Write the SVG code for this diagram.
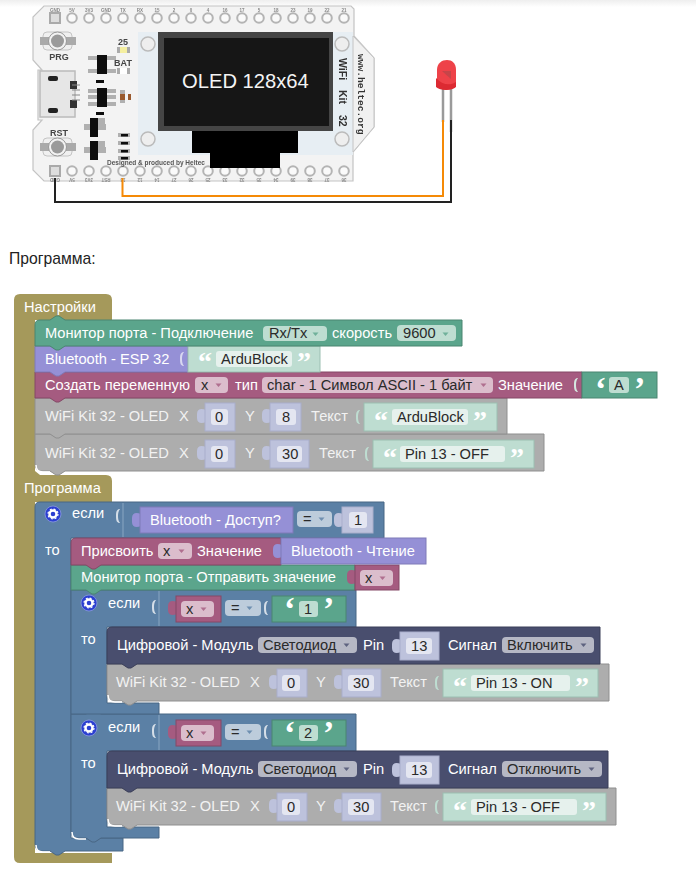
<svg xmlns="http://www.w3.org/2000/svg" width="696" height="878" viewBox="0 0 696 878">
<style>
text{font-family:"Liberation Sans",Arial,sans-serif;font-size:14.67px}
.t{fill:#fff}.g{fill:#f2f2f2}.d{fill:#2a2a2a}
.q{font-family:"Liberation Serif",serif;font-size:28px;font-weight:bold;fill:#fff}
.q1{font-family:"Liberation Serif",serif;font-size:34px;font-weight:bold;fill:#fff}
.ht{fill:#A5995B}
.te{fill:#5BA58C;stroke:#4A8571}.pu{fill:#9590D6;stroke:#7F7AB8}.cr{fill:#A55B80;stroke:#844966}.gr{fill:#ADADAD;stroke:#8F8F8F}.da{fill:#494E6E;stroke:#3A3E58}.bl{fill:#5B80A5;stroke:#496684}
.sv{fill:#BEDDD1;stroke:#9CBFB2}.vv{fill:#BDC2DC;stroke:#A9AECB}
.fte{fill:#BEDDD1}.fcr{fill:#DBBDCC}.fbl{fill:#BDCCDB}.fda{fill:#B6B8C5}.fv{fill:#E4E6F1}.fs{fill:#E6F1ED}
.sl{stroke:#8AA6C2;stroke-width:1;fill:none}
.hl{stroke:#fff;stroke-width:1.500;fill:none}
.m{font-size:4.5px;fill:#888;text-anchor:middle;font-weight:bold}
.pin{fill:#fafafa;stroke:#b4b4b4;stroke-width:2}
.pad{fill:#b0b0b0}.blk{fill:#111}
.lb{font-size:9px;font-weight:bold;fill:#444;text-anchor:middle}
.wk{font-size:10.500px;font-weight:bold;fill:#333}
</style>
<defs>
<linearGradient id="top" x1="0" y1="0" x2="0" y2="1"><stop offset="0" stop-color="#eeeeee"/><stop offset="1" stop-color="#ffffff"/></linearGradient>
<filter id="soft" x="-2%" y="-2%" width="104%" height="104%"><feGaussianBlur stdDeviation="0.45"/></filter>
<path id="tab" d="M1,5 C-4,3 -8,4 -8,9 V13 C-8,18 -4,19 1,17 Z"/>
<path id="cre" d="M0,4 C-3,4 -4,6 -4,11 C-4,16 -3,18 0,18 C-1.5,16 -2,14 -2,11 C-2,8 -1.500,6 0,4 Z"/>
<path id="arr" d="M0.500,0.500 H6.500 L3.500,4 Z" opacity="0.8"/>
<g id="gear"><circle r="8" fill="#2B3FD0" stroke="#8C9BE0" stroke-width="0.8"/><circle r="3.500" fill="none" stroke="#fff" stroke-width="2.400"/><circle r="5" fill="none" stroke="#fff" stroke-width="1.200" stroke-dasharray="2 1.930"/></g>
</defs>

<rect x="0" y="0" width="696" height="7" fill="url(#top)"/>

<g id="board">
<g filter="url(#soft)">
<path d="M44,6 H351 L354,9 V36 L374,58 V127 L353,152 V181 H44 L33,170 V130 L42,120 H38 V70 H42 L33,60 V17 Z" fill="#f3f3f3" stroke="#c4c4c4" stroke-width="1.200"/>
<rect x="138" y="32" width="215" height="123" fill="#E7EEF3"/>
<path d="M353,36 L374,58 V127 L353,152 Z" fill="#f1f1f1" stroke="#c4c4c4"/>
<rect x="158" y="32" width="175" height="99" fill="#444"/>
<rect x="164" y="38" width="165" height="88" fill="#161616"/>
<circle cx="148" cy="44" r="7" fill="#eee" stroke="#bbb" stroke-width="1.500"/><circle cx="148" cy="139" r="7" fill="#eee" stroke="#bbb" stroke-width="1.500"/>
<circle cx="342" cy="44" r="7" fill="#eee" stroke="#bbb" stroke-width="1.500"/><circle cx="342" cy="139" r="7" fill="#eee" stroke="#bbb" stroke-width="1.500"/>
<g id="pins">
<rect x="50" y="13" width="10" height="10" fill="#ddd" stroke="#aaa" stroke-width="2"/>
<circle class="pin" cx="72" cy="18" r="4.800"/><circle class="pin" cx="89" cy="18" r="4.800"/><circle class="pin" cx="106" cy="18" r="4.800"/><circle class="pin" cx="123" cy="18" r="4.800"/><circle class="pin" cx="140" cy="18" r="4.800"/><circle class="pin" cx="157" cy="18" r="4.800"/><circle class="pin" cx="174" cy="18" r="4.800"/><circle class="pin" cx="191" cy="18" r="4.800"/><circle class="pin" cx="208" cy="18" r="4.800"/><circle class="pin" cx="225" cy="18" r="4.800"/><circle class="pin" cx="242" cy="18" r="4.800"/><circle class="pin" cx="259" cy="18" r="4.800"/><circle class="pin" cx="276" cy="18" r="4.800"/><circle class="pin" cx="293" cy="18" r="4.800"/><circle class="pin" cx="310" cy="18" r="4.800"/><circle class="pin" cx="327" cy="18" r="4.800"/><circle class="pin" cx="344" cy="18" r="4.800"/>
<rect x="50" y="166" width="10" height="10" fill="#ddd" stroke="#aaa" stroke-width="2"/>
<circle class="pin" cx="72" cy="171" r="4.800"/><circle class="pin" cx="89" cy="171" r="4.800"/><circle class="pin" cx="106" cy="171" r="4.800"/><circle class="pin" cx="123" cy="171" r="4.800"/><circle class="pin" cx="140" cy="171" r="4.800"/><circle class="pin" cx="157" cy="171" r="4.800"/><circle class="pin" cx="174" cy="171" r="4.800"/><circle class="pin" cx="191" cy="171" r="4.800"/><circle class="pin" cx="208" cy="171" r="4.800"/><circle class="pin" cx="225" cy="171" r="4.800"/><circle class="pin" cx="242" cy="171" r="4.800"/><circle class="pin" cx="259" cy="171" r="4.800"/><circle class="pin" cx="276" cy="171" r="4.800"/><circle class="pin" cx="293" cy="171" r="4.800"/><circle class="pin" cx="310" cy="171" r="4.800"/><circle class="pin" cx="327" cy="171" r="4.800"/><circle class="pin" cx="344" cy="171" r="4.800"/>
</g>
<g id="pinlabels">
<text class="m" x="55" y="12">GND</text><text class="m" x="72" y="12">5V</text><text class="m" x="89" y="12">3V3</text><text class="m" x="106" y="12">GND</text><text class="m" x="123" y="12">TX</text><text class="m" x="140" y="12">RX</text><text class="m" x="157" y="12">15</text><text class="m" x="174" y="12">2</text><text class="m" x="191" y="12">0</text><text class="m" x="208" y="12">4</text><text class="m" x="225" y="12">16</text><text class="m" x="242" y="12">17</text><text class="m" x="259" y="12">5</text><text class="m" x="276" y="12">18</text><text class="m" x="293" y="12">23</text><text class="m" x="310" y="12">19</text><text class="m" x="327" y="12">22</text><text class="m" x="344" y="12">21</text>
<text class="m" transform="rotate(180 55 178)" x="55" y="178">GND</text><text class="m" transform="rotate(180 72 178)" x="72" y="178">5V</text><text class="m" transform="rotate(180 89 178)" x="89" y="178">3V3</text><text class="m" transform="rotate(180 106 178)" x="106" y="178">RST</text><text class="m" transform="rotate(180 123 178)" x="123" y="178">13</text><text class="m" transform="rotate(180 140 178)" x="140" y="178">12</text><text class="m" transform="rotate(180 157 178)" x="157" y="178">14</text><text class="m" transform="rotate(180 174 178)" x="174" y="178">27</text><text class="m" transform="rotate(180 191 178)" x="191" y="178">26</text><text class="m" transform="rotate(180 208 178)" x="208" y="178">25</text><text class="m" transform="rotate(180 225 178)" x="225" y="178">33</text><text class="m" transform="rotate(180 242 178)" x="242" y="178">32</text><text class="m" transform="rotate(180 259 178)" x="259" y="178">35</text><text class="m" transform="rotate(180 276 178)" x="276" y="178">34</text><text class="m" transform="rotate(180 293 178)" x="293" y="178">39</text><text class="m" transform="rotate(180 310 178)" x="310" y="178">38</text><text class="m" transform="rotate(180 327 178)" x="327" y="178">37</text><text class="m" transform="rotate(180 344 178)" x="344" y="178">36</text>
</g>
<path d="M192,131 H298 V153 H280 V168 H210 V153 H192 Z" fill="#000"/>
<g id="buttons">
<rect x="43" y="32" width="29" height="18" rx="4" fill="#f0f0f0" stroke="#c4c4c4"/><rect x="40" y="37" width="36" height="8" fill="#aaa"/><circle cx="57.500" cy="41" r="9" fill="#f2f2f2" stroke="#999"/><circle cx="57.500" cy="41" r="6.500" fill="#9a9a9a"/>
<rect x="43" y="138" width="29" height="18" rx="4" fill="#f0f0f0" stroke="#c4c4c4"/><rect x="40" y="143" width="36" height="8" fill="#aaa"/><circle cx="57.500" cy="147" r="9" fill="#f2f2f2" stroke="#999"/><circle cx="57.500" cy="147" r="6.500" fill="#9a9a9a"/>
<text class="lb" x="59" y="60">PRG</text>
<text class="lb" x="59" y="136">RST</text>
</g>
<g id="usb">
<rect x="40" y="71" width="35" height="46" fill="#e6e6e6" stroke="#bbb" stroke-width="1.500"/>
<rect x="48" y="76" width="10" height="5" rx="2" fill="#222"/><rect x="48" y="108" width="10" height="5" rx="2" fill="#222"/>
<rect x="70" y="81" width="7" height="8" fill="#333"/><rect x="70" y="100" width="7" height="8" fill="#333"/>
<path d="M72,85 H80 M72,90 H80 M72,95 H80 M72,100 H80" stroke="#888" fill="none"/>
</g>
<g id="parts">
<text class="lb" x="123" y="45">25</text>
<rect x="117" y="47" width="13" height="6" fill="#aaa"/><rect x="120" y="47" width="7" height="6" fill="#F5EFA0"/>
<text class="lb" x="123" y="66">BAT</text>
<rect x="117" y="68" width="13" height="6" fill="#aaa"/><rect x="120" y="68" width="7" height="6" fill="#fff"/>
<rect class="pad" x="88" y="56" width="28" height="4"/><rect class="pad" x="88" y="69" width="28" height="4"/><rect class="blk" x="97" y="55" width="10" height="19"/>
<rect class="blk" x="96" y="80" width="8" height="3"/>
<rect class="pad" x="88" y="89" width="28" height="4"/><rect class="pad" x="88" y="95" width="28" height="4"/><rect class="pad" x="88" y="102" width="28" height="4"/><rect class="blk" x="97" y="88" width="10" height="19"/>
<rect class="pad" x="120" y="90" width="5" height="13"/><rect x="120" y="94" width="5" height="6" fill="#9A5A2E"/><rect x="128" y="94" width="3" height="6" fill="#9A5A2E"/>
<rect class="blk" x="96" y="112" width="8" height="3"/>
<rect class="pad" x="84" y="124" width="22" height="6"/><rect class="pad" x="98" y="118" width="7" height="6"/><rect class="blk" x="90" y="118" width="8" height="19"/>
<rect class="pad" x="84" y="147" width="22" height="6"/><rect class="pad" x="98" y="141" width="7" height="6"/><rect class="blk" x="90" y="141" width="8" height="19"/>
<rect class="pad" x="118" y="133" width="12" height="4"/><rect class="blk" x="121" y="134" width="7" height="2.500"/>
<rect class="pad" x="118" y="141" width="12" height="4"/><rect class="blk" x="121" y="142" width="7" height="2.500"/>
<rect class="pad" x="118" y="149" width="12" height="4"/><rect class="blk" x="121" y="150" width="7" height="2.500"/>
<rect class="pad" x="118" y="156" width="12" height="4"/><rect class="blk" x="121" y="157" width="7" height="2.500"/>
</g>
<text x="107" y="165" style="font-size:6.500px;font-weight:bold;fill:#555">Designed &amp; produced by Heltec</text>
<text class="wk" transform="translate(339,58) rotate(90)">WiFi</text>
<text class="wk" transform="translate(339,90) rotate(90)">Kit</text>
<text class="wk" transform="translate(339,115) rotate(90)">32</text>
<text transform="translate(358,54) rotate(90)" style="font-family:'Liberation Mono',monospace;font-size:9.600px;font-weight:bold;fill:#333">www.heltec.org</text>
<path d="M192,131 H298 V153 H280 V168 H210 V153 H192 Z" fill="#000"/>
</g>
<text x="182" y="88" style="font-size:20.200px;fill:#f4f4f4">OLED 128x64</text>
</g>

<g id="led" filter="url(#soft)">
<path d="M443,88 V122 M451,88 V132" stroke="#9A9A9A" stroke-width="2.500" fill="none"/>
<path d="M437,86 V70 C437,63 442,60 447,60 C452,60 456,63 456,70 V86 C452,91 441,91 437,86 Z" fill="#EE4248"/>
<path d="M436,78 V87 C440,91 452,91 456,87 V82 C450,86 442,85 436,78 Z" fill="#DC2A31"/>
<path d="M442,71 H451 V79 Z" fill="#C6444A"/>
</g>

<g id="connectors" fill="none" stroke-width="2">
<path d="M55,178 V202 H451 V120" stroke="#222"/>
<path d="M122.500,178 V196 H443 V120" stroke="#F58A07"/>
</g>

<text id="caption" x="9" y="264" style="font-size:15.700px;fill:#222">Программа:</text>

<g id="hats">
<path class="ht" d="M14,300 Q14,294 20,294 H106 Q112,294 112,300 V320 H35 V471 L40,475 H106 Q112,475 112,481 V502 H35 V853 H112 V863 H20 Q14,863 14,857 Z"/>
<text class="t" x="24" y="312">Настройки</text>
<text class="t" x="24" y="493">Программа</text>
</g>

<g id="if-outer">
<path class="bl" d="M35,507 Q35,502 40,502 H384 V538 H71 V838 H123 V851 H65 L59,855 H56 L50,851 H42 Q35,851 35,844 Z"/>
<path class="hl" d="M36,845 Q36,852 43,852 H50"/>
<path d="M123,503 V537" class="sl"/>
<use href="#gear" x="53" y="514"/>
<text class="t" x="72" y="518">если</text>
<text class="t" x="45" y="555">то</text>
<use href="#cre" x="120" y="505" fill="#D5DEE8"/>
<use href="#tab" x="140" y="509" fill="#9590D6"/>
<rect class="pu" x="140" y="507" width="153" height="26"/>
<text class="t" x="150" y="525">Bluetooth - Доступ?</text>
<rect class="fbl" x="297" y="511" width="35" height="16" rx="4"/>
<text class="d" x="303" y="524">=</text><use href="#arr" x="318" y="517" fill="#5B80A5"/>
<use href="#tab" x="342" y="509" fill="#BDC2DC"/>
<rect class="vv" x="342" y="507" width="31" height="26"/>
<rect class="fv" x="349" y="512" width="18" height="16" rx="3"/>
<text class="d" x="354" y="525">1</text>
</g>

<g id="if-2">
<path class="bl" d="M71,714 H86 L92,710 H95 L101,714 H356 V751 H107 V827 H159 V838 H101 L95,842 H92 L86,838 H78 Q71,838 71,831 Z"/>
<path class="hl" d="M72,832 Q72,839 79,839 H86"/>
<path d="M159,715 V750" class="sl"/>
<use href="#gear" x="89" y="728"/>
<text class="t" x="108" y="732">если</text>
<text class="t" x="81" y="768">то</text>
<use href="#cre" x="156" y="720" fill="#D5DEE8"/>
<use href="#tab" x="176" y="721" fill="#A55B80"/>
<rect class="cr" x="176" y="720" width="45" height="26"/>
<rect class="fcr" x="181" y="725" width="33" height="16" rx="4"/>
<text class="d" x="186" y="738">x</text><use href="#arr" x="200" y="731" fill="#A55B80"/>
<rect class="fbl" x="225" y="724" width="36" height="16" rx="4"/>
<text class="d" x="231" y="737">=</text><use href="#arr" x="246" y="730" fill="#5B80A5"/>
<use href="#cre" x="268" y="721" fill="#D5DEE8"/>
<rect class="te" x="272" y="720" width="74" height="26"/>
<text class="q1" x="284" y="744">‘</text>
<rect class="fte" x="299" y="725" width="19" height="16" rx="3"/>
<text class="d" x="304" y="738">2</text>
<text class="q1" x="323" y="744">’</text>
</g>
<g id="oled-off-2">
<path class="gr" d="M107,788 H616 V825 H137 L131,829 H128 L122,825 H114 Q107,825 107,818 Z"/>
<path class="hl" d="M108,819 Q108,826 115,826 H122"/>
<text class="g" x="116" y="811">WiFi Kit 32 - OLED</text>
<text class="g" x="250" y="811">X</text>
<use href="#tab" x="277" y="795" fill="#BDC2DC"/><rect class="vv" x="277" y="793" width="30" height="28"/>
<rect class="fv" x="282" y="799" width="18" height="16" rx="3"/><text class="d" x="287" y="812">0</text>
<text class="g" x="316" y="811">Y</text>
<use href="#tab" x="342" y="795" fill="#BDC2DC"/><rect class="vv" x="342" y="793" width="39" height="28"/>
<rect class="fv" x="348" y="799" width="26" height="16" rx="3"/><text class="d" x="353" y="812">30</text>
<text class="g" x="390" y="811">Текст</text>
<use href="#cre" x="439" y="796" fill="#BEDDD1"/>
<rect class="sv" x="443" y="793" width="163" height="28"/>
<text class="q" x="453" y="820">“</text>
<rect class="fs" x="471" y="799" width="106" height="16" rx="3"/><text class="d" x="476" y="812">Pin 13 - OFF</text>
<text class="q" x="582" y="820">”</text>
</g>
<g id="digital-off">
<path class="da" d="M107,756 Q107,751 112,751 H608 V788 H137 L131,792 H128 L122,788 H107 Z"/>
<text class="t" x="117" y="774">Цифровой - Модуль</text>
<rect class="fda" x="258" y="761" width="99" height="16" rx="4"/>
<text class="d" x="263" y="774">Светодиод</text><use href="#arr" x="343" y="767" fill="#494E6E"/>
<text class="t" x="363" y="774">Pin</text>
<use href="#tab" x="400" y="759" fill="#BDC2DC"/><rect class="vv" x="400" y="756" width="39" height="28"/>
<rect class="fv" x="406" y="762" width="26" height="16" rx="3"/><text class="d" x="411" y="775">13</text>
<text class="t" x="448" y="774">Сигнал</text>
<rect class="fda" x="502" y="761" width="100" height="16" rx="4"/>
<text class="d" x="507" y="774">Отключить</text><use href="#arr" x="588" y="767" fill="#494E6E"/>
</g>

<g id="if-1">
<path class="bl" d="M71,590 H356 V627 H107 V703 H159 V714 H71 Z"/>
<path d="M159,591 V626" class="sl"/>
<use href="#gear" x="89" y="603"/>
<text class="t" x="108" y="608">если</text>
<text class="t" x="81" y="644">то</text>
<use href="#cre" x="156" y="596" fill="#D5DEE8"/>
<use href="#tab" x="176" y="597" fill="#A55B80"/>
<rect class="cr" x="176" y="596" width="45" height="26"/>
<rect class="fcr" x="181" y="601" width="33" height="16" rx="4"/>
<text class="d" x="186" y="614">x</text><use href="#arr" x="200" y="607" fill="#A55B80"/>
<rect class="fbl" x="225" y="600" width="36" height="16" rx="4"/>
<text class="d" x="231" y="613">=</text><use href="#arr" x="246" y="606" fill="#5B80A5"/>
<use href="#cre" x="268" y="597" fill="#D5DEE8"/>
<rect class="te" x="272" y="596" width="74" height="26"/>
<text class="q1" x="284" y="620">‘</text>
<rect class="fte" x="299" y="601" width="19" height="16" rx="3"/>
<text class="d" x="304" y="614">1</text>
<text class="q1" x="323" y="620">’</text>
</g>
<g id="oled-on">
<path class="gr" d="M107,664 H609 V701 H137 L131,705 H128 L122,701 H114 Q107,701 107,694 Z"/>
<path class="hl" d="M108,695 Q108,702 115,702 H122"/>
<text class="g" x="116" y="687">WiFi Kit 32 - OLED</text>
<text class="g" x="250" y="687">X</text>
<use href="#tab" x="277" y="671" fill="#BDC2DC"/><rect class="vv" x="277" y="669" width="30" height="28"/>
<rect class="fv" x="282" y="675" width="18" height="16" rx="3"/><text class="d" x="287" y="688">0</text>
<text class="g" x="316" y="687">Y</text>
<use href="#tab" x="342" y="671" fill="#BDC2DC"/><rect class="vv" x="342" y="669" width="39" height="28"/>
<rect class="fv" x="348" y="675" width="26" height="16" rx="3"/><text class="d" x="353" y="688">30</text>
<text class="g" x="390" y="687">Текст</text>
<use href="#cre" x="439" y="672" fill="#BEDDD1"/>
<rect class="sv" x="443" y="669" width="155" height="28"/>
<text class="q" x="453" y="696">“</text>
<rect class="fs" x="471" y="675" width="99" height="16" rx="3"/><text class="d" x="476" y="688">Pin 13 - ON</text>
<text class="q" x="575" y="696">”</text>
</g>
<g id="digital-on">
<path class="da" d="M107,632 Q107,627 112,627 H600 V664 H137 L131,668 H128 L122,664 H107 Z"/>
<text class="t" x="117" y="650">Цифровой - Модуль</text>
<rect class="fda" x="258" y="637" width="99" height="16" rx="4"/>
<text class="d" x="263" y="650">Светодиод</text><use href="#arr" x="343" y="643" fill="#494E6E"/>
<text class="t" x="363" y="650">Pin</text>
<use href="#tab" x="400" y="635" fill="#BDC2DC"/><rect class="vv" x="400" y="632" width="39" height="28"/>
<rect class="fv" x="406" y="638" width="26" height="16" rx="3"/><text class="d" x="411" y="651">13</text>
<text class="t" x="448" y="650">Сигнал</text>
<rect class="fda" x="502" y="637" width="92" height="16" rx="4"/>
<text class="d" x="507" y="650">Включить</text><use href="#arr" x="580" y="643" fill="#494E6E"/>
</g>
<g id="serial-send">
<path class="te" d="M71,565 H355 V590 H101 L95,594 H92 L86,590 H71 Z"/>
<text class="t" x="81" y="582">Монитор порта - Отправить значение</text>
<use href="#tab" x="355" y="566" fill="#A55B80"/>
<rect class="cr" x="355" y="565" width="44" height="25"/>
<rect class="fcr" x="360" y="570" width="33" height="16" rx="4"/>
<text class="d" x="365" y="583">x</text><use href="#arr" x="379" y="576" fill="#A55B80"/>
</g>
<g id="assign">
<path class="cr" d="M71,543 Q71,538 76,538 H281 V565 H101 L95,569 H92 L86,565 H71 Z"/>
<text class="t" x="81" y="556">Присвоить</text>
<rect class="fcr" x="158" y="543" width="34" height="16" rx="4"/>
<text class="d" x="163" y="556">x</text><use href="#arr" x="178" y="549" fill="#A55B80"/>
<text class="t" x="197" y="556">Значение</text>
<use href="#tab" x="281" y="540" fill="#9590D6"/>
<rect class="pu" x="281" y="538" width="145" height="26"/>
<text class="t" x="291" y="556">Bluetooth - Чтение</text>
</g>

<g id="oled-2">
<path class="gr" d="M35,434 H544 V471 H65 L59,475 H56 L50,471 H42 Q35,471 35,464 Z"/>
<path class="hl" d="M36,465 Q36,472 43,472 H50"/>
<text class="g" x="45" y="458">WiFi Kit 32 - OLED</text>
<text class="g" x="179" y="458">X</text>
<use href="#tab" x="205" y="442" fill="#BDC2DC"/><rect class="vv" x="205" y="440" width="30" height="28"/>
<rect class="fv" x="211" y="446" width="17" height="16" rx="3"/><text class="d" x="215" y="459">0</text>
<text class="g" x="245" y="458">Y</text>
<use href="#tab" x="270" y="442" fill="#BDC2DC"/><rect class="vv" x="270" y="440" width="39" height="28"/>
<rect class="fv" x="277" y="446" width="25" height="16" rx="3"/><text class="d" x="282" y="459">30</text>
<text class="g" x="319" y="458">Текст</text>
<use href="#cre" x="369" y="443" fill="#BEDDD1"/>
<rect class="sv" x="373" y="440" width="161" height="28"/>
<text class="q" x="383" y="467">“</text>
<rect class="fs" x="400" y="446" width="105" height="16" rx="3"/><text class="d" x="405" y="459">Pin 13 - OFF</text>
<text class="q" x="510" y="467">”</text>
</g>
<g id="oled-1">
<path class="gr" d="M35,398 H507 V434 H65 L59,438 H56 L50,434 H35 Z"/>
<text class="g" x="45" y="421">WiFi Kit 32 - OLED</text>
<text class="g" x="179" y="421">X</text>
<use href="#tab" x="205" y="405" fill="#BDC2DC"/><rect class="vv" x="205" y="403" width="30" height="28"/>
<rect class="fv" x="211" y="409" width="17" height="16" rx="3"/><text class="d" x="215" y="422">0</text>
<text class="g" x="245" y="421">Y</text>
<use href="#tab" x="270" y="405" fill="#BDC2DC"/><rect class="vv" x="270" y="403" width="31" height="28"/>
<rect class="fv" x="276" y="409" width="20" height="16" rx="3"/><text class="d" x="282" y="422">8</text>
<text class="g" x="311" y="421">Текст</text>
<use href="#cre" x="360" y="406" fill="#BEDDD1"/>
<rect class="sv" x="364" y="403" width="133" height="28"/>
<text class="q" x="374" y="430">“</text>
<rect class="fs" x="392" y="409" width="76" height="16" rx="3"/><text class="d" x="397" y="422">ArduBlock</text>
<text class="q" x="473" y="430">”</text>
</g>
<g id="variable">
<path class="cr" d="M35,372 H582 V398 H65 L59,402 H56 L50,398 H35 Z"/>
<text class="t" x="45" y="390">Создать переменную</text>
<rect class="fcr" x="195" y="377" width="33" height="16" rx="4"/>
<text class="d" x="201" y="390">x</text><use href="#arr" x="215" y="383" fill="#A55B80"/>
<text class="t" x="235" y="390">тип</text>
<rect class="fcr" x="262" y="377" width="231" height="16" rx="4"/>
<text class="d" x="267" y="390">char - 1 Символ ASCII - 1 байт</text><use href="#arr" x="480" y="383" fill="#A55B80"/>
<text class="t" x="498" y="390">Значение</text>
<use href="#cre" x="578" y="374" fill="#D5E8E0"/>
<rect class="te" x="582" y="372" width="75" height="26"/>
<text class="q1" x="595" y="400">‘</text>
<rect class="fte" x="609" y="377" width="20" height="16" rx="3"/>
<text class="d" x="614" y="390">A</text>
<text class="q1" x="634" y="400">’</text>
</g>
<g id="bt-esp">
<path class="pu" d="M35,346 H188 V372 H65 L59,376 H56 L50,372 H35 Z"/>
<text class="t" x="45" y="364">Bluetooth - ESP 32</text>
<use href="#cre" x="184" y="348" fill="#D9D7F0"/>
<rect class="sv" x="188" y="346" width="132" height="26"/>
<text class="q" x="198" y="371">“</text>
<rect class="fs" x="216" y="351" width="76" height="16" rx="3"/><text class="d" x="221" y="364">ArduBlock</text>
<text class="q" x="297" y="371">”</text>
</g>
<g id="serial-connect">
<path class="te" d="M35,325 Q35,320 40,320 H50 L56,316 H59 L65,320 H462 V346 H65 L59,350 H56 L50,346 H35 Z"/>
<text class="t" x="45" y="338">Монитор порта - Подключение</text>
<rect class="fte" x="263" y="326" width="64" height="15" rx="4"/>
<text class="d" x="269" y="338">Rx/Tx</text><use href="#arr" x="312" y="332" fill="#5BA58C"/>
<text class="t" x="332" y="338">скорость</text>
<rect class="fte" x="397" y="325" width="59" height="16" rx="4"/>
<text class="d" x="403" y="338">9600</text><use href="#arr" x="442" y="332" fill="#5BA58C"/>
</g>
</svg>
